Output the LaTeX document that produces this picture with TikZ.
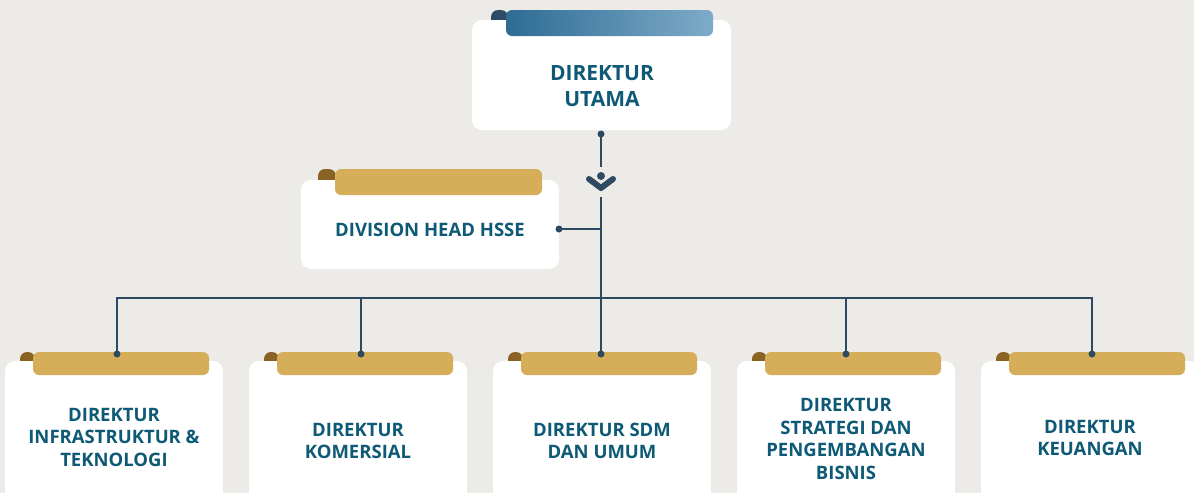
\documentclass[tikz,border=0pt]{standalone}
\usepackage{fontspec}
\setmainfont{Open Sans}
\definecolor{paper}{HTML}{ECEBE7}
\definecolor{ink}{HTML}{0E5A76}
\definecolor{wirecol}{HTML}{2E4A62}
\definecolor{gold}{HTML}{D6AE5A}
\definecolor{curlgold}{HTML}{8A6224}
\definecolor{curlblue}{HTML}{2F4C66}
\definecolor{blueA}{HTML}{2E6C94}
\definecolor{blueB}{HTML}{7EABC9}
\begin{document}
\begin{tikzpicture}[x=1pt,y=-1pt,
  card/.style={fill=white, rounded corners=10pt, inner sep=0pt},
  tabbar/.style={fill=gold, rounded corners=6pt},
  curl/.style={fill=curlgold, rounded corners=7pt},
  label/.style={text=ink, font=\bfseries\fontsize{18.5}{22.5}\selectfont, align=center, inner sep=0pt},
  biglabel/.style={text=ink, font=\bfseries\fontsize{21}{26}\selectfont, align=center, inner sep=0pt},
  wire/.style={draw=wirecol, line width=2pt},
  dot/.style={circle, fill=wirecol, inner sep=0pt, minimum size=7pt}]
\useasboundingbox (0,0) rectangle (1194,493);
\clip (0,0) rectangle (1194,493);
\fill[paper] (0,0) rectangle (1194,493);

% top card with blue header
\fill[curlblue, rounded corners=7pt] (491,10) rectangle (508,30);
\node[card, minimum width=259pt, minimum height=110pt] (top) at (601.5,75) {};
\shade[left color=blueA, right color=blueB, rounded corners=6pt] (506,10) rectangle (713,36);
\node[biglabel] (toptext) at (602,86) {DIREKTUR\\UTAMA};

% HSSE card
\path[curl] (318,169) rectangle (336,188);
\node[card, minimum width=258pt, minimum height=89pt] (hsse) at (430,224.5) {};
\path[tabbar] (335,169) rectangle (542,195);
\node[label] (hssetext) at (430,230) {DIVISION HEAD HSSE};

% bottom row of cards
\foreach \i/\x in {1/5, 2/249, 3/493, 4/737, 5/981} {
  \path[curl] (\x+15,352) rectangle (\x+30,370);
  \node[card, minimum width=218pt, minimum height=150pt] (c\i) at (\x+109,436) {};
  \path[tabbar] (\x+28,352) rectangle (\x+204,375);
}
\node[label] (t1) at (114,437) {DIREKTUR\\INFRASTRUKTUR \&\\TEKNOLOGI};
\node[label] (t2) at (358,441) {DIREKTUR\\KOMERSIAL};
\node[label] (t3) at (602,441) {DIREKTUR SDM\\DAN UMUM};
\node[label] (t4) at (846,439) {DIREKTUR\\STRATEGI DAN\\PENGEMBANGAN\\BISNIS};
\node[label] (t5) at (1090,438) {DIREKTUR\\KEUANGAN};

% connector dots
\node[dot] (dtop) at (601,134) {};
\node[dot] (dhsse) at (559,229) {};
\node[dot] (d1) at (117,354) {};
\node[dot] (d2) at (361,354) {};
\node[dot] (d3) at (601,354) {};
\node[dot] (d4) at (846,354) {};
\node[dot] (d5) at (1092,354) {};
\coordinate (stemtop) at (601,167);
\coordinate (stembot) at (601,197);
\coordinate (junction) at (601,229);
\coordinate (busL) at (117,298);
\coordinate (busR) at (1092,298);

% chevron mark on the main line
\node[dot, minimum size=8pt] (chev) at (601,176) {};
\draw[draw=wirecol, line width=6pt, line cap=round, line join=round]
  (589,179) -- (601,188) -- (613,179);

% wiring
\draw[wire] (dtop.center) -- (stemtop);
\draw[wire] (stembot) -- (d3.center);
\draw[wire] (dhsse.center) -- (junction);
\draw[wire] (d1.center) -- (busL) -- (busR) -- (d5.center);
\draw[wire] (d2.center) -- (d2 |- busL);
\draw[wire] (d4.center) -- (d4 |- busL);
\end{tikzpicture}
\end{document}
